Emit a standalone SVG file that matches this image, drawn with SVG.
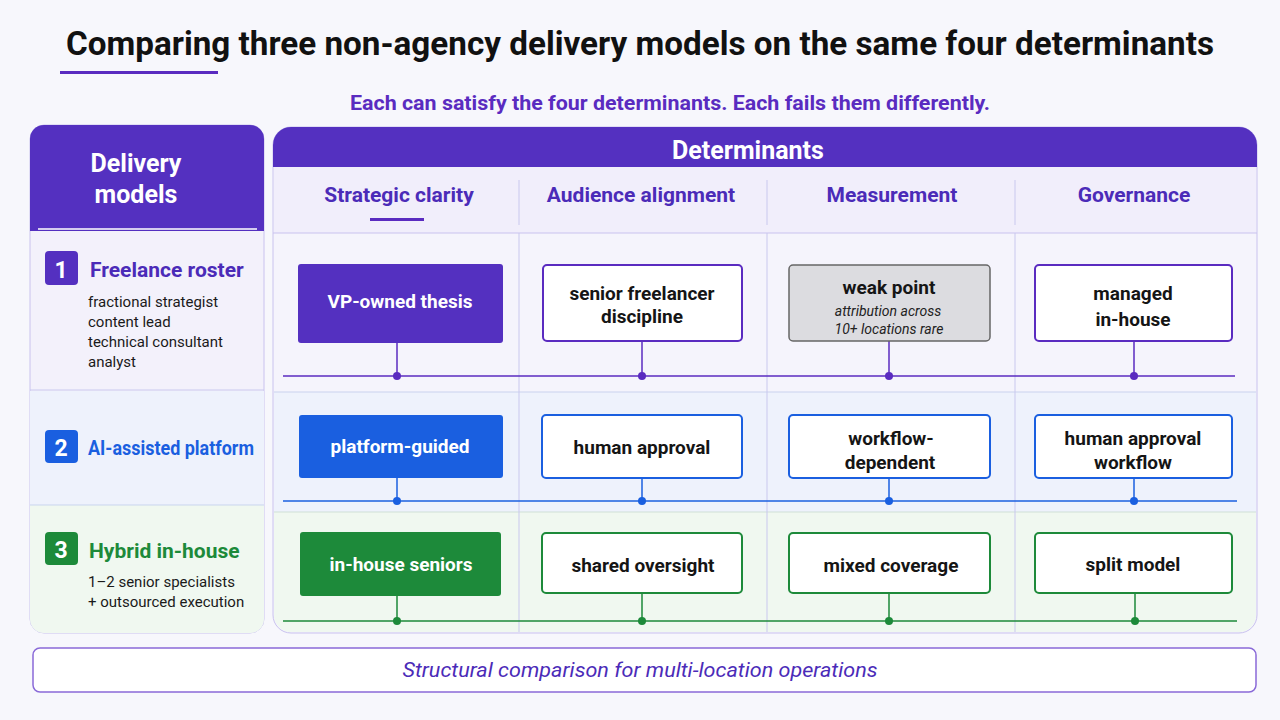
<svg xmlns="http://www.w3.org/2000/svg" width="1280" height="720" viewBox="0 0 1280 720">
<style>
text{font-family:Roboto,"Liberation Sans",Arial,sans-serif}
.b{font-weight:bold}
.ch{font-size:21px;font-weight:bold;fill:#4b2bb8;text-anchor:middle}
.bt{font-size:19px;font-weight:bold;text-anchor:middle;fill:#151515}
.wt{font-size:19px;font-weight:bold;text-anchor:middle;fill:#fff}
.sm{font-size:15px;fill:#1a1a1a}
.p{stroke:#5a2bc0}.bl{stroke:#1a5fe0}.g{stroke:#1d8a3a}
</style>
<rect width="1280" height="720" fill="#f7f7fc"/>
<text x="640" y="55" text-anchor="middle" class="b" font-size="33" fill="#111" textLength="1148" lengthAdjust="spacingAndGlyphs">Comparing three non-agency delivery models on the same four determinants</text>
<rect x="60" y="71" width="158" height="3" fill="#5a2bc0"/>
<text x="670" y="110" text-anchor="middle" class="b" font-size="20" fill="#5a2bc0" textLength="640" lengthAdjust="spacingAndGlyphs">Each can satisfy the four determinants. Each fails them differently.</text>

<g id="left-panel">
<rect x="30" y="125" width="234" height="508" rx="14" fill="#f3f1fb" stroke="#c9c2ee"/>
<rect x="30" y="391" width="234" height="114" fill="#eef2fc"/>
<path d="M30 505H264V619a14 14 0 0 1-14 14H44a14 14 0 0 1-14-14Z" fill="#f0f8f0"/>
<path d="M30 231V139a14 14 0 0 1 14-14H250a14 14 0 0 1 14 14V231Z" fill="#5430c0"/>
<line x1="38" y1="229" x2="257" y2="229" stroke="#fff" stroke-width="1.5"/>
<text x="136" y="172" text-anchor="middle" class="b" font-size="25" fill="#fff">Delivery</text>
<text x="136" y="203" text-anchor="middle" class="b" font-size="25" fill="#fff">models</text>
<line x1="30" y1="390" x2="264" y2="390" stroke="#c9c8ee"/>
<line x1="30" y1="505" x2="264" y2="505" stroke="#c9d5ee"/>
</g>
<g id="model-1">
<rect x="45" y="251" width="33" height="34" rx="4" fill="#5430c0"/>
<text x="61" y="278" text-anchor="middle" class="b" font-size="23" fill="#fff">1</text>
<text x="90" y="277" class="b" font-size="21" fill="#4b2bb8">Freelance roster</text>
<text class="sm"><tspan x="88" y="307">fractional strategist</tspan><tspan x="88" y="327">content lead</tspan><tspan x="88" y="347">technical consultant</tspan><tspan x="88" y="367">analyst</tspan></text>
</g>
<g id="model-2">
<rect x="45" y="430" width="33" height="33" rx="4" fill="#1a5fe0"/>
<text x="61" y="456" text-anchor="middle" class="b" font-size="23" fill="#fff">2</text>
<text x="88" y="455" class="b" font-size="21" fill="#1a5fe0" textLength="166" lengthAdjust="spacingAndGlyphs">AI-assisted platform</text>
</g>
<g id="model-3">
<rect x="45" y="532" width="33" height="33" rx="4" fill="#1d8a3a"/>
<text x="61" y="558" text-anchor="middle" class="b" font-size="23" fill="#fff">3</text>
<text x="89" y="558" class="b" font-size="21" fill="#1d8a3a">Hybrid in-house</text>
<text class="sm"><tspan x="88" y="587">1–2 senior specialists</tspan><tspan x="88" y="607">+ outsourced execution</tspan></text>
</g>

<g id="right-panel">
<rect x="273" y="127" width="984" height="506" rx="18" fill="#f5f4fc" stroke="#c9c2ee"/>
<rect x="274" y="392" width="982" height="120" fill="#eef2fc"/>
<path d="M274 512H1256V615a17 17 0 0 1-17 17H291a17 17 0 0 1-17-17Z" fill="#f0f8f0"/>
<path d="M273 167V145a18 18 0 0 1 18-18H1239a18 18 0 0 1 18 18V167Z" fill="#5430c0"/>
<rect x="274" y="167" width="982" height="66" fill="#f1eefb"/>
<text x="748" y="159" text-anchor="middle" class="b" font-size="25" fill="#fff">Determinants</text>
<line x1="273" y1="233" x2="1257" y2="233" stroke="#c9c2ee"/>
<line x1="274" y1="392" x2="1256" y2="392" stroke="#c9d2ee"/>
<line x1="274" y1="512" x2="1256" y2="512" stroke="#cfe0d6"/>
<g stroke="#c9c8ee"><line x1="519" y1="180" x2="519" y2="225"/><line x1="767" y1="180" x2="767" y2="225"/><line x1="1015" y1="180" x2="1015" y2="225"/>
<line x1="519" y1="233" x2="519" y2="632"/><line x1="767" y1="233" x2="767" y2="632"/><line x1="1015" y1="233" x2="1015" y2="632"/></g>
<text x="399" y="202" class="ch">Strategic clarity</text>
<text x="641" y="202" class="ch">Audience alignment</text>
<text x="892" y="202" class="ch">Measurement</text>
<text x="1134" y="202" class="ch">Governance</text>
<rect x="370" y="218" width="54" height="3" fill="#5a2bc0"/>
</g>

<g id="connectors" stroke-width="1.5" fill="none">
<g class="p"><line x1="283" y1="376" x2="1235" y2="376"/><line x1="397" y1="343" x2="397" y2="376"/><line x1="642" y1="341" x2="642" y2="376"/><line x1="889" y1="341" x2="889" y2="376"/><line x1="1134" y1="341" x2="1134" y2="376"/></g>
<g class="bl"><line x1="283" y1="501" x2="1237" y2="501"/><line x1="397" y1="478" x2="397" y2="501"/><line x1="642" y1="478" x2="642" y2="501"/><line x1="889" y1="478" x2="889" y2="501"/><line x1="1134" y1="478" x2="1134" y2="501"/></g>
<g class="g"><line x1="283" y1="621" x2="1237" y2="621"/><line x1="397" y1="596" x2="397" y2="621"/><line x1="642" y1="593" x2="642" y2="621"/><line x1="889" y1="593" x2="889" y2="621"/><line x1="1135" y1="593" x2="1135" y2="621"/></g>
<g fill="#5a2bc0" stroke="none"><circle cx="397" cy="376" r="4"/><circle cx="642" cy="376" r="4"/><circle cx="889" cy="376" r="4"/><circle cx="1134" cy="376" r="4"/></g>
<g fill="#1a5fe0" stroke="none"><circle cx="397" cy="501" r="4"/><circle cx="642" cy="501" r="4"/><circle cx="889" cy="501" r="4"/><circle cx="1134" cy="501" r="4"/></g>
<g fill="#1d8a3a" stroke="none"><circle cx="397" cy="621" r="4"/><circle cx="642" cy="621" r="4"/><circle cx="889" cy="621" r="4"/><circle cx="1135" cy="621" r="4"/></g>
</g>

<g id="r1c1"><rect x="298" y="264" width="205" height="79" rx="3" fill="#5430c0"/><text x="400" y="308" class="wt">VP-owned thesis</text></g>
<g id="r1c2"><rect x="543" y="265" width="199" height="76" rx="4" fill="#fff" stroke="#5a2bc0" stroke-width="2"/><text class="bt"><tspan x="642" y="300">senior freelancer</tspan><tspan x="642" y="323">discipline</tspan></text></g>
<g id="r1c3"><rect x="789" y="265" width="201" height="76" rx="4" fill="#dcdce0" stroke="#666" stroke-width="1.5"/><text x="889" y="294" class="bt" font-size="18">weak point</text><text font-size="14" font-style="italic" text-anchor="middle" fill="#222"><tspan x="888" y="316">attribution across</tspan><tspan x="889" y="334">10+ locations rare</tspan></text></g>
<g id="r1c4"><rect x="1035" y="265" width="197" height="76" rx="4" fill="#fff" stroke="#5a2bc0" stroke-width="2"/><text class="bt"><tspan x="1133" y="300">managed</tspan><tspan x="1133" y="326">in-house</tspan></text></g>

<g id="r2c1"><rect x="299" y="415" width="204" height="63" rx="3" fill="#1a5fe0"/><text x="400" y="453" class="wt">platform-guided</text></g>
<g id="r2c2"><rect x="542" y="415" width="200" height="63" rx="4" fill="#fff" stroke="#1a5fe0" stroke-width="2"/><text x="642" y="454" class="bt">human approval</text></g>
<g id="r2c3"><rect x="789" y="415" width="201" height="63" rx="4" fill="#fff" stroke="#1a5fe0" stroke-width="2"/><text class="bt"><tspan x="891" y="445">workflow-</tspan><tspan x="890" y="469">dependent</tspan></text></g>
<g id="r2c4"><rect x="1035" y="415" width="197" height="63" rx="4" fill="#fff" stroke="#1a5fe0" stroke-width="2"/><text class="bt"><tspan x="1133" y="445">human approval</tspan><tspan x="1133" y="469">workflow</tspan></text></g>

<g id="r3c1"><rect x="300" y="532" width="201" height="64" rx="3" fill="#1d8a3a"/><text x="401" y="571" class="wt">in-house seniors</text></g>
<g id="r3c2"><rect x="542" y="533" width="200" height="60" rx="4" fill="#fff" stroke="#1d8a3a" stroke-width="2"/><text x="643" y="572" class="bt">shared oversight</text></g>
<g id="r3c3"><rect x="789" y="533" width="201" height="60" rx="4" fill="#fff" stroke="#1d8a3a" stroke-width="2"/><text x="891" y="572" class="bt">mixed coverage</text></g>
<g id="r3c4"><rect x="1035" y="533" width="197" height="60" rx="4" fill="#fff" stroke="#1d8a3a" stroke-width="2"/><text x="1133" y="571" class="bt">split model</text></g>

<g id="footer"><rect x="33" y="648" width="1223" height="44" rx="7" fill="#fff" stroke="#8a6ad8" stroke-width="1.5"/><text x="640" y="677" text-anchor="middle" font-size="21" font-style="italic" fill="#4b2bb8" textLength="475" lengthAdjust="spacingAndGlyphs">Structural comparison for multi-location operations</text></g>
</svg>
